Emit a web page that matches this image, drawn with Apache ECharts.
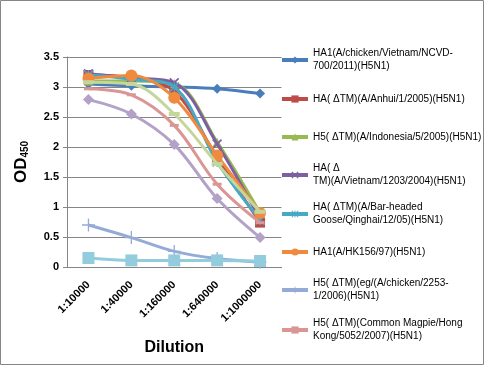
<!DOCTYPE html>
<html><head><meta charset="utf-8">
<script src="https://cdn.jsdelivr.net/npm/echarts@6/dist/echarts.min.js"></script>
<style>html,body{margin:0;padding:0;background:#fff}#c{width:485px;height:366px}</style>
</head><body><div id="c"></div>
<script>
const categories = ['1:10000','1:40000','1:160000','1:640000','1:1000000'];
const yTicks = {min:0, max:3.5, interval:0.5};
const names = [
 'HA1(A/chicken/Vietnam/NCVD-700/2011)(H5N1)',
 'HA( ΔTM)(A/Anhui/1/2005)(H5N1)',
 'H5( ΔTM)(A/Indonesia/5/2005)(H5N1)',
 'HA( ΔTM)(A/Vietnam/1203/2004)(H5N1)',
 'HA( ΔTM)(A/Bar-headed Goose/Qinghai/12/05)(H5N1)',
 'HA1(A/HK156/97)(H5N1)',
 'H5( ΔTM)(eg/(A/chicken/2253-1/2006)(H5N1)',
 'H5( ΔTM)(Common Magpie/Hong Kong/5052/2007)(H5N1)',
 'Series9','Series10','Series11'
];
const legendLabels = [
 'HA1(A/chicken/Vietnam/NCVD-\n700/2011)(H5N1)',
 'HA( ΔTM)(A/Anhui/1/2005)(H5N1)',
 'H5( ΔTM)(A/Indonesia/5/2005)(H5N1)',
 'HA( Δ\nTM)(A/Vietnam/1203/2004)(H5N1)',
 'HA( ΔTM)(A/Bar-headed\nGoose/Qinghai/12/05)(H5N1)',
 'HA1(A/HK156/97)(H5N1)',
 'H5( ΔTM)(eg/(A/chicken/2253-\n1/2006)(H5N1)',
 'H5( ΔTM)(Common Magpie/Hong\nKong/5052/2007)(H5N1)'
];
const s1 = [3.05, 3.02, 3.00, 2.97, 2.89];
const s2 = [3.20, 3.15, 2.93, 1.82, 0.74];
const s3 = [3.10, 3.10, 3.06, 2.08, 0.90];
const s4 = [3.22, 3.15, 3.07, 2.05, 0.80];
const s5 = [3.20, 3.13, 3.00, 1.75, 0.78];
const s6 = [3.14, 3.19, 2.82, 1.86, 0.90];
const s7 = [0.70, 0.49, 0.26, 0.14, 0.08];
const s8 = [2.97, 2.87, 2.36, 1.38, 0.74];
const s9 = [3.08, 3.05, 2.55, 1.72, 0.92];
const s10 = [2.79, 2.55, 2.04, 1.14, 0.49];
const s11 = [0.15, 0.11, 0.11, 0.11, 0.10];
const seriesData = [s1,s2,s3,s4,s5,s6,s7,s8,s9,s10,s11];

const colors = ['#4A7EBB','#BE4B48','#98B954','#7D60A0','#46AAC5','#F08A3E','#95ABD7','#D99694','#C3D69B','#B3A2C7','#93CDDD'];
const X = 'path://M0,1.2L1.2,0L5,3.8L8.8,0L10,1.2L6.2,5L10,8.8L8.8,10L5,6.2L1.2,10L0,8.8L3.8,5Z';
const STAR = 'path://M4.4,0H5.6V10H4.4Z M0,1L1,0L10,9L9,10Z M9,0L10,1L1,10L0,9Z';
const PLUS = 'path://M4.5,0H5.5V10H4.5Z M0,4.5H10V5.5H0Z';
const symbols = ['diamond','rect','triangle',X,STAR,'circle',PLUS,'rect','rect','diamond','rect'];
const sizes = [10,10,9,10,10,12,13,[9,3],[11,4],11,12];

const series = seriesData.map((d,i)=>({
  name: names[i], type:'line', data:d, smooth:0.35,
  symbol: symbols[i], symbolSize: sizes[i], showSymbol:true,
  lineStyle:{width:3,color:colors[i]},
  itemStyle:{color:colors[i], borderWidth:0},
  emphasis:{disabled:true}, z: 2+i
}));

const firstLines = [60,99,137,175,214,252,290,330];
const legends = legendLabels.map((lab,i)=>{
  const two = lab.indexOf('\n')>=0;
  return {
    data:[names[i]], orient:'vertical', left:280,
    top: two ? firstLines[i]-19.5 : firstLines[i]-6.5,
    itemWidth:26, itemHeight:9, itemGap:0, padding:0, selectedMode:false,
    lineStyle:{width:4},
    formatter: ()=>lab,
    textStyle:{fontFamily:'Liberation Sans', fontSize:10, color:'#000', lineHeight:13,
      padding: two ? [13,0,0,0] : 0}
  };
});

const chart = echarts.init(document.getElementById('c'), null, {renderer:'canvas'});
chart.setOption({
  animation:false,
  color: colors,
  grid:{left:67, top:57, right:203.5, bottom:99},
  legend: legends,
  xAxis:{type:'category', data:categories, boundaryGap:true,
    name:'Dilution', nameLocation:'middle', nameGap:73,
    nameTextStyle:{fontFamily:'Liberation Sans', fontSize:16, fontWeight:'bold', color:'#000'},
    axisLine:{lineStyle:{color:'#868686'}}, axisTick:{show:false},
    axisLabel:{rotate:45, margin:16, fontFamily:'Liberation Sans', fontSize:11, fontWeight:'bold', color:'#000'}},
  yAxis:{type:'value', min:yTicks.min, max:yTicks.max, interval:yTicks.interval,
    name:'{a|OD}{b|450}', nameLocation:'middle', nameGap:37,
    nameTextStyle:{rich:{
      a:{fontFamily:'Liberation Sans', fontSize:17, fontWeight:'bold', color:'#000', lineHeight:20, verticalAlign:'bottom'},
      b:{fontFamily:'Liberation Sans', fontSize:10, fontWeight:'bold', color:'#000', lineHeight:10, padding:[10,0,0,0], verticalAlign:'bottom'}}},
    axisLine:{show:true, lineStyle:{color:'#868686'}},
    axisTick:{show:true, length:4, lineStyle:{color:'#868686'}},
    splitLine:{lineStyle:{color:'#868686', width:1}},
    axisLabel:{margin:8, fontFamily:'Liberation Sans', fontSize:11, fontWeight:'bold', color:'#000'}},
  graphic:[{type:'rect', silent:true, shape:{x:0.5,y:0.5,width:483,height:364}, style:{fill:'none', stroke:'#868686', lineWidth:1}}],
  series: series
});
</script></body></html>
